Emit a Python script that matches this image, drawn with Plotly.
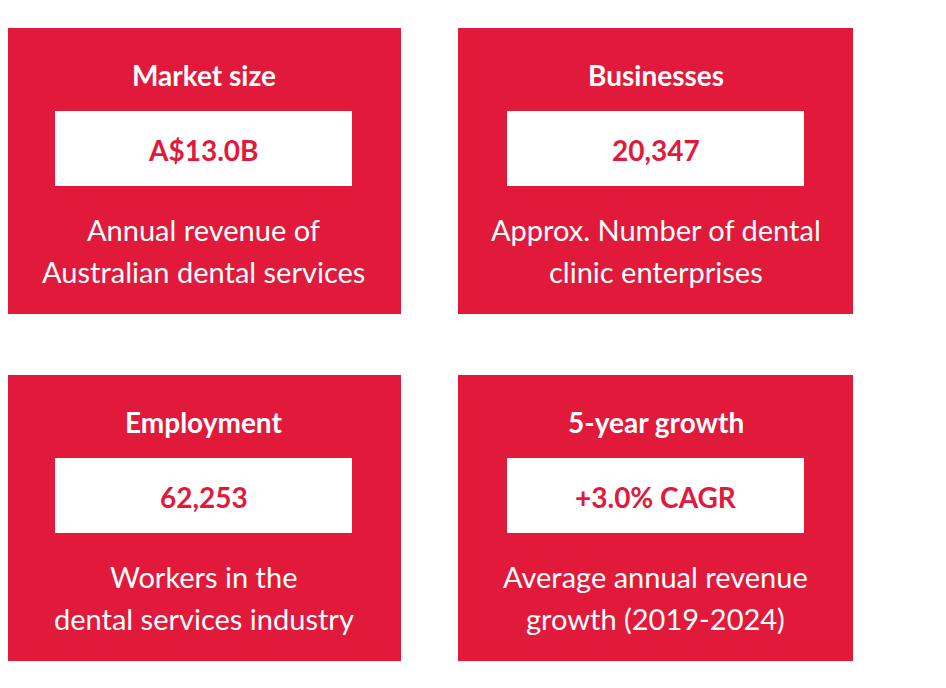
import plotly.graph_objects as go

titles = ["Market size", "Businesses", "Employment", "5-year growth"]
values = ["A$13.0B", "20,347", "62,253", "+3.0% CAGR"]
descriptions = [
    ["Annual revenue of", "Australian dental services"],
    ["Approx. Number of dental", "clinic enterprises"],
    ["Workers in the", "dental services industry"],
    ["Average annual revenue", "growth (2019-2024)"],
]

RED = "#E1193A"
W, H = 946, 688
OFF = 8  # page body margin offset
lefts = [6 - OFF, 458 - OFF, 6 - OFF, 458 - OFF]
tops = [28 - OFF, 28 - OFF, 375 - OFF, 375 - OFF]
card_w, card_h = 395, 286

fig = go.Figure()
shapes, annotations = [], []
for t, v, d, x0, y0 in zip(titles, values, descriptions, lefts, tops):
    shapes.append(dict(type="rect", xref="x", yref="y", x0=x0, x1=x0 + card_w,
                       y0=y0, y1=y0 + card_h, fillcolor=RED, line_width=0, layer="below"))
    shapes.append(dict(type="rect", xref="x", yref="y", x0=x0 + 49, x1=x0 + 346,
                       y0=y0 + 83, y1=y0 + 158, fillcolor="white", line_width=0, layer="below"))
    cx = x0 + card_w / 2
    annotations.append(dict(x=cx, y=y0 + 47, text=f"<b>{t}</b>", showarrow=False,
                            font=dict(family="Lato", size=28, color="white")))
    annotations.append(dict(x=cx, y=y0 + 122, text=f"<b>{v}</b>", showarrow=False,
                            font=dict(family="Lato", size=28, color=RED)))
    for i, line in enumerate(d):
        annotations.append(dict(x=cx, y=y0 + 201 + 42 * i, text=line, showarrow=False,
                                font=dict(family="Lato", size=29, color="white")))

fig.update_layout(
    width=W, height=H, margin=dict(l=0, r=0, t=0, b=0),
    plot_bgcolor="white", paper_bgcolor="white",
    xaxis=dict(range=[0, W], visible=False, fixedrange=True),
    yaxis=dict(range=[H, 0], visible=False, fixedrange=True),
    shapes=shapes, annotations=annotations, showlegend=False,
)
fig.write_html("out.html")
